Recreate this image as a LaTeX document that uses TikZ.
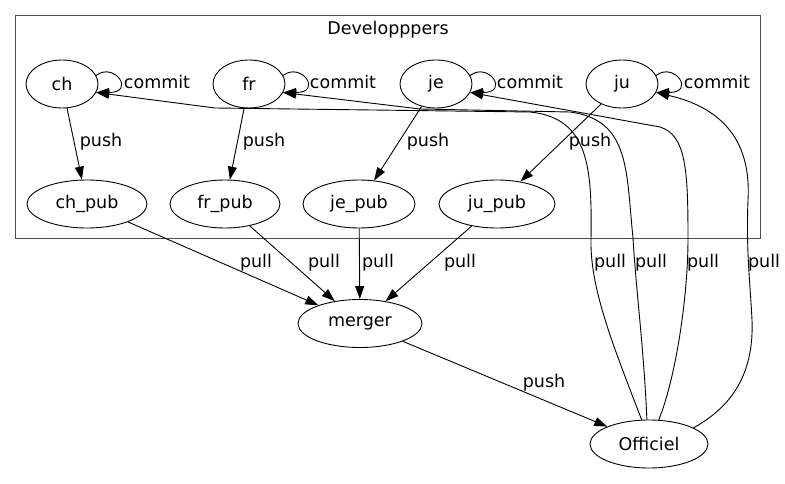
\documentclass[tikz,border=0pt]{standalone}
\usepackage{fontspec}
\setmainfont{DejaVu Sans}
\usetikzlibrary{arrows.meta,shapes.geometric}

\begin{document}
\begin{tikzpicture}[x=1pt,y=-1pt,line width=0.9pt,
  every node/.style={font=\fontsize{17.5}{20}\selectfont},
  repo/.style={ellipse,draw,inner sep=0pt,minimum height=48pt},
  lbl/.style={inner sep=0pt},
  >={Triangle[length=13pt,width=9pt]}]
\useasboundingbox (0,0) rectangle (785,484);
% cluster of the developers
\node[draw=black!70,minimum width=745pt,minimum height=223pt,inner sep=0pt] (devs) at (387.5,126.5) {};
\node (devtitle) at (388,30) {Developppers};
% private repositories
\node[repo,minimum width=72pt] (ch) at (62,84) {ch};
\node[repo,minimum width=72pt] (fr) at (249,84) {fr};
\node[repo,minimum width=72pt] (je) at (436,84) {je};
\node[repo,minimum width=72pt] (ju) at (622,84) {ju};
% public repositories
\node[repo,minimum width=120pt] (chpub) at (87,204) {ch\_pub};
\node[repo,minimum width=110pt] (frpub) at (225,204) {fr\_pub};
\node[repo,minimum width=112pt] (jepub) at (359,204) {je\_pub};
\node[repo,minimum width=116pt] (jupub) at (497,204) {ju\_pub};
\node[repo,minimum width=124pt] (merger) at (360,323.5) {merger};
\node[repo,minimum width=118pt] (officiel) at (649,444) {Officiel};
% commit
\draw[->] (ch.14) .. controls +(18,-14) and +(40,0) .. (ch.-14) node[lbl] at (157,82) {commit};
\draw[->] (fr.14) .. controls +(18,-14) and +(40,0) .. (fr.-14) node[lbl] at (343,82) {commit};
\draw[->] (je.14) .. controls +(18,-14) and +(40,0) .. (je.-14) node[lbl] at (530,82) {commit};
\draw[->] (ju.14) .. controls +(18,-14) and +(40,0) .. (ju.-14) node[lbl] at (717,82) {commit};
% push
\draw[->] (ch) -- (chpub) node[lbl] at (101,142) {push};
\draw[->] (fr) -- (frpub) node[lbl] at (264,142) {push};
\draw[->] (je) -- (jepub) node[lbl] at (428,142) {push};
\draw[->] (ju) -- (jupub) node[lbl] at (590,142) {push};
\draw[->] (merger) -- (officiel) node[lbl] at (544,383) {push};
% pull
\draw[->] (chpub) -- (merger) node[lbl] at (256,263) {pull};
\draw[->] (frpub) -- (merger) node[lbl] at (324,263) {pull};
\draw[->] (jepub) -- (merger) node[lbl] at (378,263) {pull};
\draw[->] (jupub) -- (merger) node[lbl] at (460,263) {pull};
\draw[->] (officiel.107) .. controls (615,350) and (590,290) .. (591,240)
  .. controls (592,170) and (590,118) .. (530,112) -- (215,108) -- (ch.-14)
  node[lbl] at (610,263) {pull};
\draw[->] (officiel.95) .. controls (644,350) and (636,290) .. (633,238)
  .. controls (626,170) and (630,120) .. (570,112) -- (420,109) -- (fr.-14)
  node[lbl] at (651,263) {pull};
\draw[->] (officiel.68) .. controls (675,380) and (688,300) .. (688,238)
  .. controls (688,170) and (686,135) .. (660,127) -- (je.-14)
  node[lbl] at (703,263) {pull};
\draw[->] (officiel.20) .. controls (735,405) and (754,370) .. (752,320)
  .. controls (750,280) and (746,250) .. (748,200)
  .. controls (752,130) and (710,105) .. (ju.-14)
  node[lbl] at (764,263) {pull};
\end{tikzpicture}
\end{document}
